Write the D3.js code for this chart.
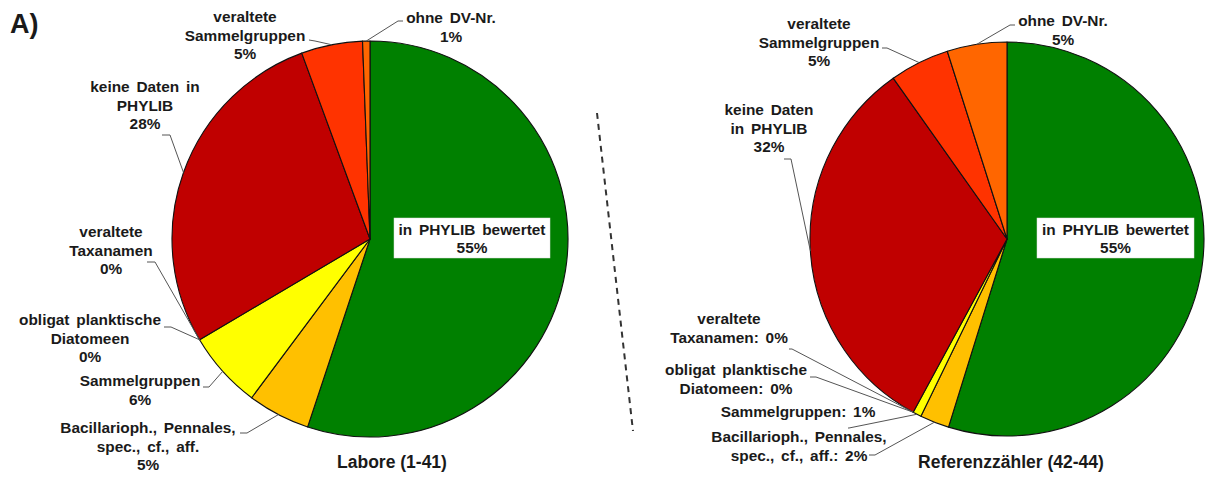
<!DOCTYPE html>
<html>
<head>
<meta charset="utf-8">
<script src="https://cdn.jsdelivr.net/npm/d3@7"></script>
<style>
  body { margin: 0; background: #fff; }
  text { font-family: "Liberation Sans", Arial, sans-serif; font-weight: bold; fill: #1a1a1a; }
  .lbl { font-size: 15.4px; word-spacing: 2.5px; }
</style>
</head>
<body>
<svg id="chart" width="1208" height="477"></svg>
<script>
// Taxa categories, in clockwise order starting at 12 o'clock
const categories = [
  "in PHYLIB bewertet",
  "Bacillarioph., Pennales, spec., cf., aff.",
  "Sammelgruppen",
  "obligat planktische Diatomeen",
  "veraltete Taxanamen",
  "keine Daten in PHYLIB",
  "veraltete Sammelgruppen",
  "ohne DV-Nr."
];
// Share of taxa (%) per group
const laboreValues    = [55.1, 5.1, 6.3, 0, 0, 27.9, 5.0, 0.6];
const referenzValues  = [54.8, 2.4, 0.7, 0, 0, 32.3, 4.9, 4.9];
const pieTitles = ["Labore (1-41)", "Referenzzähler (42-44)"];
const sliceColors = ["#008000", "#FFC000", "#FFFF00", "#FFFF00", "#C00000", "#C00000", "#FF3300", "#FF6600"];

// Label layout: text lines, centre x, first baseline, leader start/elbow
const laboreLabels = [
  { i: 1, lines: ["Bacillarioph., Pennales,", "spec., cf., aff."], x: 148, y: 433, lead: [[240, 433], [247, 433]] },
  { i: 2, lines: ["Sammelgruppen"], x: 140, y: 386, lead: [[203, 387], [209, 387]] },
  { i: 3, lines: ["obligat planktische", "Diatomeen"], x: 90, y: 325, lead: [[164, 327], [171, 327]] },
  { i: 4, lines: ["veraltete", "Taxanamen"], x: 111, y: 237, lead: [[147, 262], [155, 262]] },
  { i: 5, lines: ["keine Daten in", "PHYLIB"], x: 145, y: 92, lead: [[162, 135], [170, 135]] },
  { i: 6, lines: ["veraltete", "Sammelgruppen"], x: 245, y: 22, lead: [[309, 40], [315, 41]] },
  { i: 7, lines: ["ohne DV-Nr."], x: 451, y: 23, lead: [[403, 21], [398, 21]] }
];
const referenzLabels = [
  { i: 1, lines: ["Bacillarioph., Pennales,", "spec., cf., aff."], inline: true, x: 799, y: 442, lead: [[869, 455], [875, 455]] },
  { i: 2, lines: ["Sammelgruppen"], inline: true, x: 798, y: 417, lead: [[848, 428], [849, 428]] },
  { i: 3, lines: ["obligat planktische", "Diatomeen"], inline: true, x: 736, y: 375, lead: [[810, 377], [816, 377]] },
  { i: 4, lines: ["veraltete", "Taxanamen"], inline: true, x: 729, y: 324, lead: [[789, 349], [792, 349]] },
  { i: 5, lines: ["keine Daten", "in PHYLIB"], x: 769, y: 115, lead: [[784, 159], [791, 159]] },
  { i: 6, lines: ["veraltete", "Sammelgruppen"], x: 819, y: 29, lead: [[882, 48], [887, 48]] },
  { i: 7, lines: ["ohne DV-Nr."], x: 1063, y: 26, lead: [[1015, 25], [1010, 25]] }
];

const svg = d3.select("#chart");
const LINE_H = 18.6;
const pct = v => Math.round(v) + "%";

// Panel letter
svg.append("text").attr("x", 10).attr("y", 33)
  .style("font-size", "27px").text("A)");

// Dashed separator between the two pies
svg.append("line")
  .attr("x1", 597).attr("y1", 113).attr("x2", 633).attr("y2", 431)
  .attr("stroke", "#333").attr("stroke-width", 2).attr("stroke-dasharray", "6,5");

function drawPie(values, opts) {
  const g = svg.append("g").attr("transform", `translate(${opts.cx},${opts.cy})`);
  const pie = d3.pie().sort(null).value(d => d)(values);
  const arc = d3.arc().innerRadius(0).outerRadius(opts.r);

  g.selectAll("path.slice")
    .data(pie.filter(d => d.value > 0))
    .join("path")
    .attr("class", "slice")
    .attr("d", arc)
    .attr("fill", d => sliceColors[d.index])
    .attr("stroke", "#111")
    .attr("stroke-width", 1.1)
    .attr("stroke-linejoin", "round");

  // Leader lines and outside labels
  opts.labels.forEach(lb => {
    const d = pie[lb.i];
    const a = (d.startAngle + d.endAngle) / 2;
    const target = [opts.cx + opts.r * Math.sin(a), opts.cy - opts.r * Math.cos(a)];
    const pts = lb.lead.concat([target]);
    svg.append("path")
      .attr("d", d3.line()(pts))
      .attr("fill", "none").attr("stroke", "#555").attr("stroke-width", 1);

    const lines = lb.lines.slice();
    if (lb.inline) lines[lines.length - 1] += ": " + pct(d.value);
    else lines.push(pct(d.value));
    const t = svg.append("text").attr("class", "lbl").attr("text-anchor", "middle");
    lines.forEach((s, k) => {
      t.append("tspan").attr("x", lb.x).attr("y", lb.y + k * LINE_H).text(s);
    });
  });

  // Boxed label inside the main slice
  const main = pie[0];
  svg.append("rect")
    .attr("x", opts.box[0]).attr("y", opts.box[1])
    .attr("width", opts.box[2]).attr("height", opts.box[3])
    .attr("fill", "#fff").attr("stroke", "#ddd").attr("stroke-width", 0.5);
  const bt = svg.append("text").attr("class", "lbl").attr("text-anchor", "middle");
  const bx = opts.box[0] + opts.box[2] / 2;
  bt.append("tspan").attr("x", bx).attr("y", opts.box[1] + 17).text(categories[0]);
  bt.append("tspan").attr("x", bx).attr("y", opts.box[1] + 35).text(pct(main.value));

  // Pie title
  svg.append("text").attr("text-anchor", "middle")
    .attr("x", opts.titleX).attr("y", 468)
    .style("font-size", "17.5px").text(opts.title);
}

drawPie(laboreValues, {
  cx: 370, cy: 239, r: 198, labels: laboreLabels,
  box: [394, 218, 156, 40], title: pieTitles[0], titleX: 392
});
drawPie(referenzValues, {
  cx: 1007, cy: 239, r: 197, labels: referenzLabels,
  box: [1037, 218, 157, 40], title: pieTitles[1], titleX: 1011
});
</script>
</body>
</html>
